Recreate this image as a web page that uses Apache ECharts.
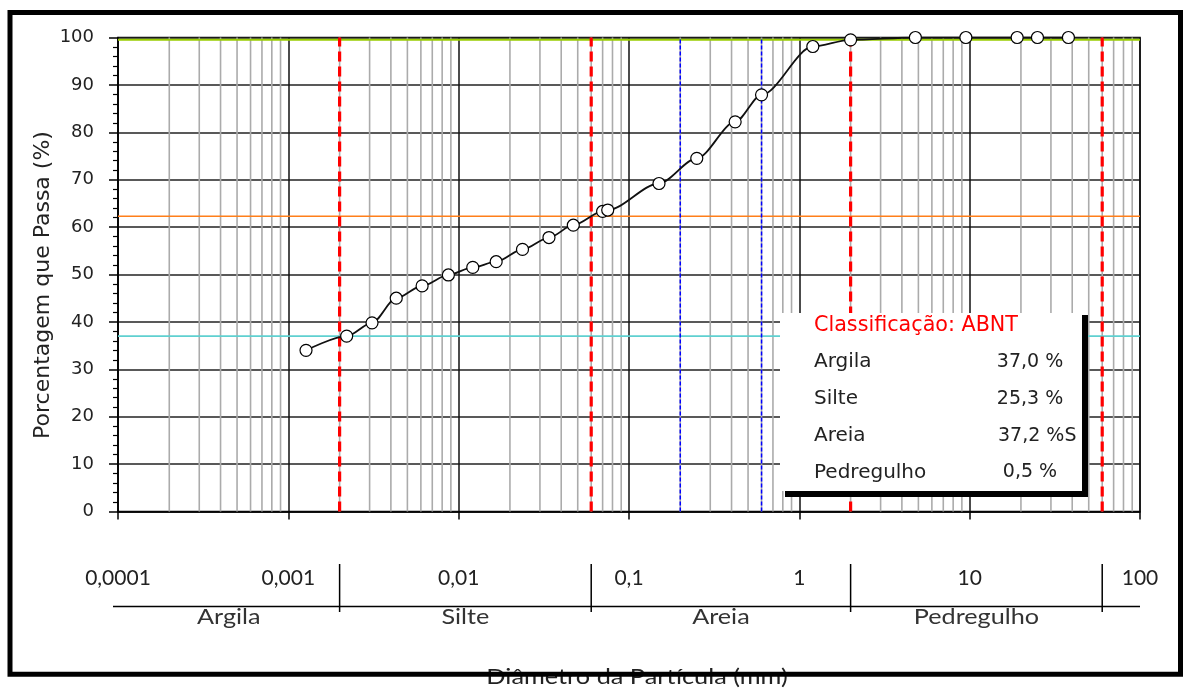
<!DOCTYPE html>
<html><head><meta charset="utf-8">
<script src="https://cdn.jsdelivr.net/npm/echarts@6/dist/echarts.min.js"></script>
<style>html,body{margin:0;padding:0;background:#fff}#c{width:1183px;height:690px}</style>
</head><body><div id="c"></div>
<script>
// ---- data ----
const diameters = [0.00127, 0.0022, 0.0031, 0.0043, 0.0061, 0.0087, 0.0121, 0.0166, 0.0237, 0.0339, 0.0471, 0.070, 0.075, 0.15, 0.25, 0.42, 0.6, 1.2, 2.0, 4.8, 9.5, 19, 25, 38];
const passing   = [34.0, 37.0, 39.8, 45.0, 47.6, 49.9, 51.5, 52.7, 55.3, 57.8, 60.4, 63.3, 63.6, 69.2, 74.5, 82.2, 87.9, 98.1, 99.5, 100, 100, 100, 100, 100];
const xTickLabels = ['0,0001', '0,001', '0,01', '0,1', '1', '10', '100'];
const classNames = ['Argila', 'Silte', 'Areia', 'Pedregulho'];
const classBounds = [0.0001, 0.002, 0.06, 2, 60, 100];
const classPercent = ['37,0 %', '25,3 %', '37,2 %S', '0,5 %'];
const cumulativeLines = [37.0, 62.3, 99.5];
const cumulativeColors = ['#5fd0d0', '#ff7f1a', '#99cc00'];
const sandSubBounds = [0.2, 0.6];
const legendTitle = 'Classificação: ABNT';
const xTitle = 'Diâmetro da Partícula (mm)';
const yTitle = 'Porcentagem que Passa (%)';

// minor log gridlines (2..9 within each decade)
const minorGrid = [];
for (let k = -4; k <= 1; k++) for (let m = 2; m <= 9; m++) minorGrid.push(+(m * Math.pow(10, k)).toPrecision(3));

const X_MIN = 0.0001, X_MAX = 100, Y_MIN = 0, Y_MAX = 100;
// vertical lines as broken polylines (value, '-' breaks the path)
const vLines = vals => vals.flatMap(v => [[v, Y_MIN], [v, Y_MAX], [v, '-']]);

const chart = echarts.init(document.getElementById('c'), null, {renderer: 'canvas'});
const refBase = {type: 'line', silent: true, showSymbol: false, symbol: 'none', connectNulls: false, animation: false, emphasis: {disabled: true}};

const series = [
  Object.assign({}, refBase, {z: 1, data: vLines(minorGrid), lineStyle: {color: '#ababab', width: 1.6}}),
];
cumulativeLines.forEach((v, i) => series.push(Object.assign({}, refBase, {
  z: 2, data: [[X_MIN, v], [X_MAX, v]], lineStyle: {color: cumulativeColors[i], width: i === 2 ? 2 : 1.6}
})));
series.push(Object.assign({}, refBase, {z: 3, data: vLines(sandSubBounds), lineStyle: {color: '#0000ff', width: 1.5, type: [4, 2]}}));
series.push(Object.assign({}, refBase, {z: 3, data: vLines(classBounds.slice(1, -1)), lineStyle: {color: '#ff0000', width: 3.2, type: [10, 5]}}));
series.push({type: 'line', z: 5, smooth: 0.3, smoothMonotone: 'x', animation: false,
  data: diameters.map((d, i) => [d, passing[i]]),
  symbol: 'circle', symbolSize: 12, showAllSymbol: true,
  itemStyle: {color: '#fff', borderColor: '#000', borderWidth: 1.2},
  lineStyle: {color: '#111', width: 1.8}});

chart.setOption({
  animation: false,
  grid: {left: 118, right: 43, top: 37.5, bottom: 178.5, show: true, borderColor: '#000', borderWidth: 1.5},
  xAxis: {
    type: 'log', logBase: 10, min: X_MIN, max: X_MAX,
    axisLine: {show: true, lineStyle: {color: '#000', width: 1.5}},
    axisTick: {show: true, length: 8, lineStyle: {color: '#000', width: 1.5}},
    axisLabel: {margin: 56, fontFamily: 'Lato', fontSize: 21, color: '#222',
      formatter: v => xTickLabels[Math.round(Math.log10(v)) + 4]},
    splitLine: {show: true, lineStyle: {color: '#111', width: 1.5}},
    minorTick: {show: false}, minorSplitLine: {show: false}
  },
  yAxis: {
    type: 'value', min: Y_MIN, max: Y_MAX, interval: 10,
    axisLine: {show: true, lineStyle: {color: '#000', width: 1.5}},
    axisTick: {show: true, length: 9, lineStyle: {color: '#000', width: 1.5}},
    minorTick: {show: true, splitNumber: 5, length: 5, lineStyle: {color: '#000', width: 1.2}},
    splitLine: {show: true, lineStyle: {color: '#222', width: 1.5}},
    axisLabel: {margin: 24, fontFamily: 'DejaVu Sans', fontSize: 18, color: '#222'}
  },
  series: series
});

// ---- decorations positioned from the axis scale ----
const px = v => chart.convertToPixel({xAxisIndex: 0}, v);
const g = [];
const lineY = 606.5;
g.push({type: 'line', z: 40, shape: {x1: 113, y1: lineY, x2: px(X_MAX), y2: lineY}, style: {stroke: '#000', lineWidth: 1.5}});
classBounds.slice(1, -1).forEach(b => {
  const x = px(b);
  g.push({type: 'line', z: 40, shape: {x1: x, y1: 564, x2: x, y2: 612}, style: {stroke: '#000', lineWidth: 1.5}});
});
classNames.forEach((n, i) => {
  const cx = (px(classBounds[i]) + px(classBounds[i + 1])) / 2;
  g.push({type: 'text', z: 40, x: cx, y: 617, scaleX: 1.2, style: {text: n, fontFamily: 'Lato', fontSize: 21, fill: '#333', align: 'center', verticalAlign: 'middle'}});
});
// axis titles
g.push({type: 'text', z: 40, x: 43, y: 285, rotation: Math.PI / 2, style: {text: yTitle, fontFamily: 'DejaVu Sans', fontSize: 22, fill: '#222', align: 'center', verticalAlign: 'middle'}});
g.push({type: 'text', z: 40, x: 637, y: 677, scaleX: 1.15, style: {text: xTitle, fontFamily: 'Lato', fontSize: 22, fill: '#222', align: 'center', verticalAlign: 'middle'}});
// legend box
g.push({type: 'rect', z: 50, shape: {x: 785, y: 315, width: 303, height: 182}, style: {fill: '#000'}});
g.push({type: 'rect', z: 51, shape: {x: 780, y: 313, width: 302, height: 178}, style: {fill: '#fff'}});
g.push({type: 'text', z: 52, x: 814, y: 326, style: {text: legendTitle, fontFamily: 'DejaVu Sans', fontSize: 20.7, fill: '#ff0000', verticalAlign: 'middle'}});
const rowY = [362, 399, 436, 472.5];
classNames.forEach((n, i) => {
  g.push({type: 'text', z: 52, x: 814, y: rowY[i], style: {text: n, fontFamily: 'DejaVu Sans', fontSize: 20, fill: '#222', verticalAlign: 'middle'}});
  const left = classPercent[i].endsWith('S');
  g.push({type: 'text', z: 52, x: left ? 998 : 1030, y: rowY[i], style: {text: classPercent[i], fontFamily: 'DejaVu Sans', fontSize: 19, fill: '#222', align: left ? 'left' : 'center', verticalAlign: 'middle'}});
});
// outer frame
g.push({type: 'rect', z: 100, shape: {x: 10, y: 12.5, width: 1170.5, height: 661.7}, style: {fill: 'none', stroke: '#000', lineWidth: 5}});
chart.setOption({graphic: g});
</script>
</body></html>
